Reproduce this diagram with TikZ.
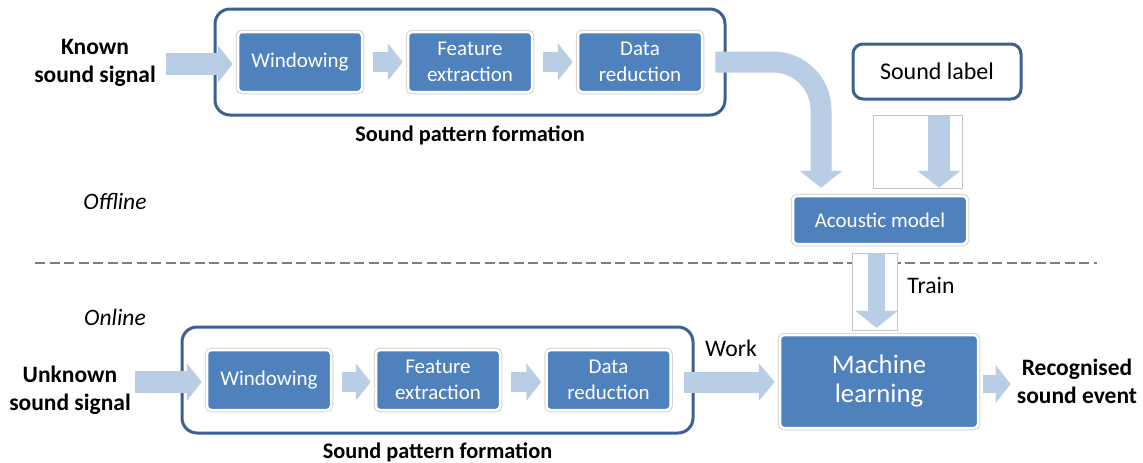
\documentclass[tikz,border=0pt]{standalone}
\usepackage{fontspec}
\setmainfont{Carlito}
\usetikzlibrary{arrows.meta,calc}
\definecolor{boxblue}{HTML}{4F81BD}
\definecolor{arrowblue}{HTML}{B9CDE5}
\definecolor{borderblue}{HTML}{3B6093}
\definecolor{dashgray}{HTML}{7F7F7F}
\definecolor{framegray}{HTML}{C4C4C4}
\begin{document}
\begin{tikzpicture}[x=1pt,y=-1pt,
  proc/.style={fill=boxblue, draw=white, line width=2.5pt, rounded corners=4pt,
    preaction={draw=black!17, line width=4.5pt},
    minimum width=124pt, minimum height=60pt, inner sep=0pt, text=white,
    align=center, font=\fontsize{21}{26.5}\selectfont},
  grp/.style={draw=borderblue, line width=3pt, rounded corners=15pt,
    minimum width=510pt, minimum height=106pt, inner sep=0pt},
  lbl/.style={inner sep=0pt, align=center, font=\bfseries\fontsize{23.5}{28}\selectfont},
  captxt/.style={inner sep=0pt, font=\bfseries\fontsize{22.3}{26}\selectfont},
  sidetxt/.style={inner sep=0pt, font=\itshape\fontsize{23.5}{27}\selectfont},
  plaintxt/.style={inner sep=0pt, font=\fontsize{23.7}{27}\selectfont},
  barrow/.style={draw=arrowblue, line width=21pt, -{Triangle[length=15pt,width=37pt]}},
  bigtip/.style={-{Triangle[length=17pt,width=42pt]}},
  frm/.style={draw=framegray, fill=white, line width=0.8pt},
  sepline/.style={draw=dashgray, line width=2.6pt, dash pattern=on 10pt off 4.5pt}
]
\useasboundingbox (0,0) rectangle (1143,463);

% dashed separator
\draw[sepline] (35,263) -- (1097,263);

% frames behind vertical arrows
\draw[frm] (873,115) rectangle (962,188);
\draw[frm] (852,253) rectangle (897,330);

% ---------- top (offline) row ----------
\node[grp] (G1) at (470,62) {};
\node[proc] (W1) at (300,62) {Windowing};
\node[proc] (F1) at (470,62) {Feature\\extraction};
\node[proc] (D1) at (640,62) {Data\\reduction};
\node[lbl] (known) at (95,63) {Known\\sound signal};
\node[captxt] (spf1) at ($(G1.south)+(0,18.5)$) {Sound pattern formation};

\node[draw=borderblue, line width=3pt, rounded corners=10pt, fill=white,
  minimum width=168pt, minimum height=55pt, inner sep=0pt,
  font=\fontsize{24}{28}\selectfont] (SL) at (937,71.5) {Sound label};
\node[proc, minimum width=174pt, minimum height=48pt] (AM) at (880,220) {Acoustic model};

% ---------- bottom (online) row ----------
\node[grp, minimum width=511pt] (G2) at (437.5,380) {};
\node[proc] (W2) at (269,380) {Windowing};
\node[proc] (F2) at (438,380) {Feature\\extraction};
\node[proc] (D2) at (608.5,380) {Data\\reduction};
\node[lbl] (unknown) at (70,390) {Unknown\\sound signal};
\node[captxt] (spf2) at ($(G2.south)+(0,17.5)$) {Sound pattern formation};

\node[proc, minimum width=198pt, minimum height=93pt,
  font=\fontsize{26.7}{29}\selectfont] (ML) at (879,381.5) {Machine\\learning};
\node[lbl] (rec) at (1077,381) {Recognised\\sound event};

% side labels
\node[sidetxt] (off) at (115,201) {Offline};
\node[sidetxt] (on) at (115,317) {Online};
\node[plaintxt] (train) at (931,285) {Train};
\node[plaintxt] (work) at (731,348) {Work};

% ---------- arrows ----------
\draw[barrow, line width=22pt] ($(known.east |- W1.west)+(10,2)$) -- ($(W1.west)+(-4,2)$);
\draw[barrow, line width=20pt] ($(W1.east)+(10,0)$) -- ($(F1.west)+(-4,0)$);
\draw[barrow, line width=20pt] ($(F1.east)+(10,0)$) -- ($(D1.west)+(-4,0)$);
\draw[barrow, bigtip, rounded corners=48pt] ($(D1.east)+(12,0)$)
  -- ($(D1.east -| AM.north)+(-59,0)$) -- ($(AM.north)+(-59,-7)$);
\draw[barrow, bigtip, line width=22pt] ($(SL.south)+(2,14.5)$) -- ($(AM.north)+(59,-7)$);
\draw[barrow, bigtip, line width=17pt] ($(AM.south)+(-3.5,8)$) -- ($(ML.north)+(-2.5,-6)$);

\draw[barrow, line width=22pt] ($(unknown.east |- W2.west)+(4,2)$) -- ($(W2.west)+(-4,2)$);
\draw[barrow, line width=20pt] ($(W2.east)+(10,2)$) -- ($(F2.west)+(-4,2)$);
\draw[barrow, line width=20pt] ($(F2.east)+(10,2)$) -- ($(D2.west)+(-4,2)$);
\draw[barrow, -{Triangle[length=16pt,width=37pt]}] ($(D2.east)+(12,2)$) -- ($(D2.east -| ML.west)+(-4,2)$);
\draw[barrow, line width=18pt] ($(ML.east |- rec.west)+(4,3)$) -- ($(rec.west)+(-6,3)$);
\end{tikzpicture}
\end{document}
